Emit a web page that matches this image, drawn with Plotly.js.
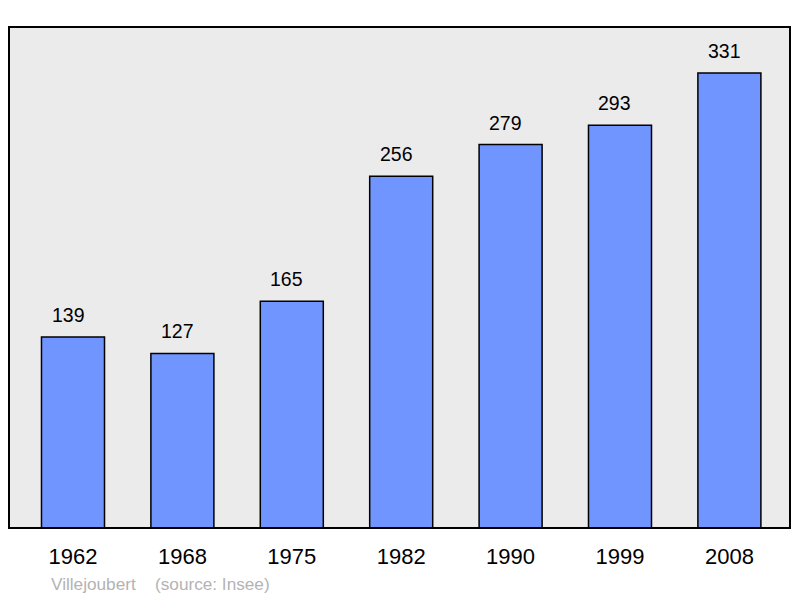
<!DOCTYPE html>
<html>
<head>
<meta charset="utf-8">
<script src="https://cdn.plot.ly/plotly-3.0.1.min.js"></script>
<style>html,body{margin:0;padding:0;background:#fff;}#chart{width:800px;height:598px;}</style>
</head>
<body>
<div id="chart"></div>
<script>
const years = ['1962', '1968', '1975', '1982', '1990', '1999', '2008'];
const population = [139, 127, 165, 256, 279, 293, 331];
const commune = 'Villejoubert';
const source = '(source: Insee)';

const trace = {
  type: 'bar',
  x: years,
  y: population,
  width: 0.576,
  marker: {color: '#7095ff', line: {color: '#000', width: 1.5}},
  hoverinfo: 'x+y'
};

const footFont = {family: 'Liberation Sans, Arial, sans-serif', size: 17.2, color: '#b3b3b3'};
const annotations = years.map((yr, i) => ({
  x: i, y: population[i], xref: 'x', yref: 'y',
  text: String(population[i]), showarrow: false,
  yanchor: 'bottom', yshift: 9, xshift: -5,
  font: {family: 'Liberation Sans, Arial, sans-serif', size: 19.5, color: '#000'}
}));
annotations.push({
  xref: 'paper', yref: 'paper', x: 0.0512, y: -0.112, xanchor: 'left', yanchor: 'middle',
  text: commune, showarrow: false, font: footFont
});
annotations.push({
  xref: 'paper', yref: 'paper', x: 0.1844, y: -0.112, xanchor: 'left', yanchor: 'middle',
  text: source, showarrow: false, font: footFont
});

const layout = {
  width: 800, height: 598,
  margin: {l: 9, r: 10, t: 27, b: 70, pad: 0},
  paper_bgcolor: '#ffffff',
  plot_bgcolor: '#ebebeb',
  showlegend: false,
  xaxis: {
    type: 'category', range: [-0.585, 6.554],
    showgrid: false, zeroline: false, showline: false, ticks: '',
    tickfont: {family: 'Liberation Sans, Arial, sans-serif', size: 22, color: '#000'},
    ticklabelstandoff: 13
  },
  yaxis: {
    range: [0, 364.5], showgrid: false, zeroline: false, showline: false,
    showticklabels: false, ticks: ''
  },
  shapes: [{
    type: 'rect', xref: 'paper', yref: 'paper', x0: 0, x1: 1, y0: 0, y1: 1,
    line: {color: '#000', width: 2}, fillcolor: 'rgba(0,0,0,0)', layer: 'above'
  }],
  annotations: annotations
};

Plotly.newPlot('chart', [trace], layout, {displayModeBar: false, staticPlot: true});
</script>
</body>
</html>
